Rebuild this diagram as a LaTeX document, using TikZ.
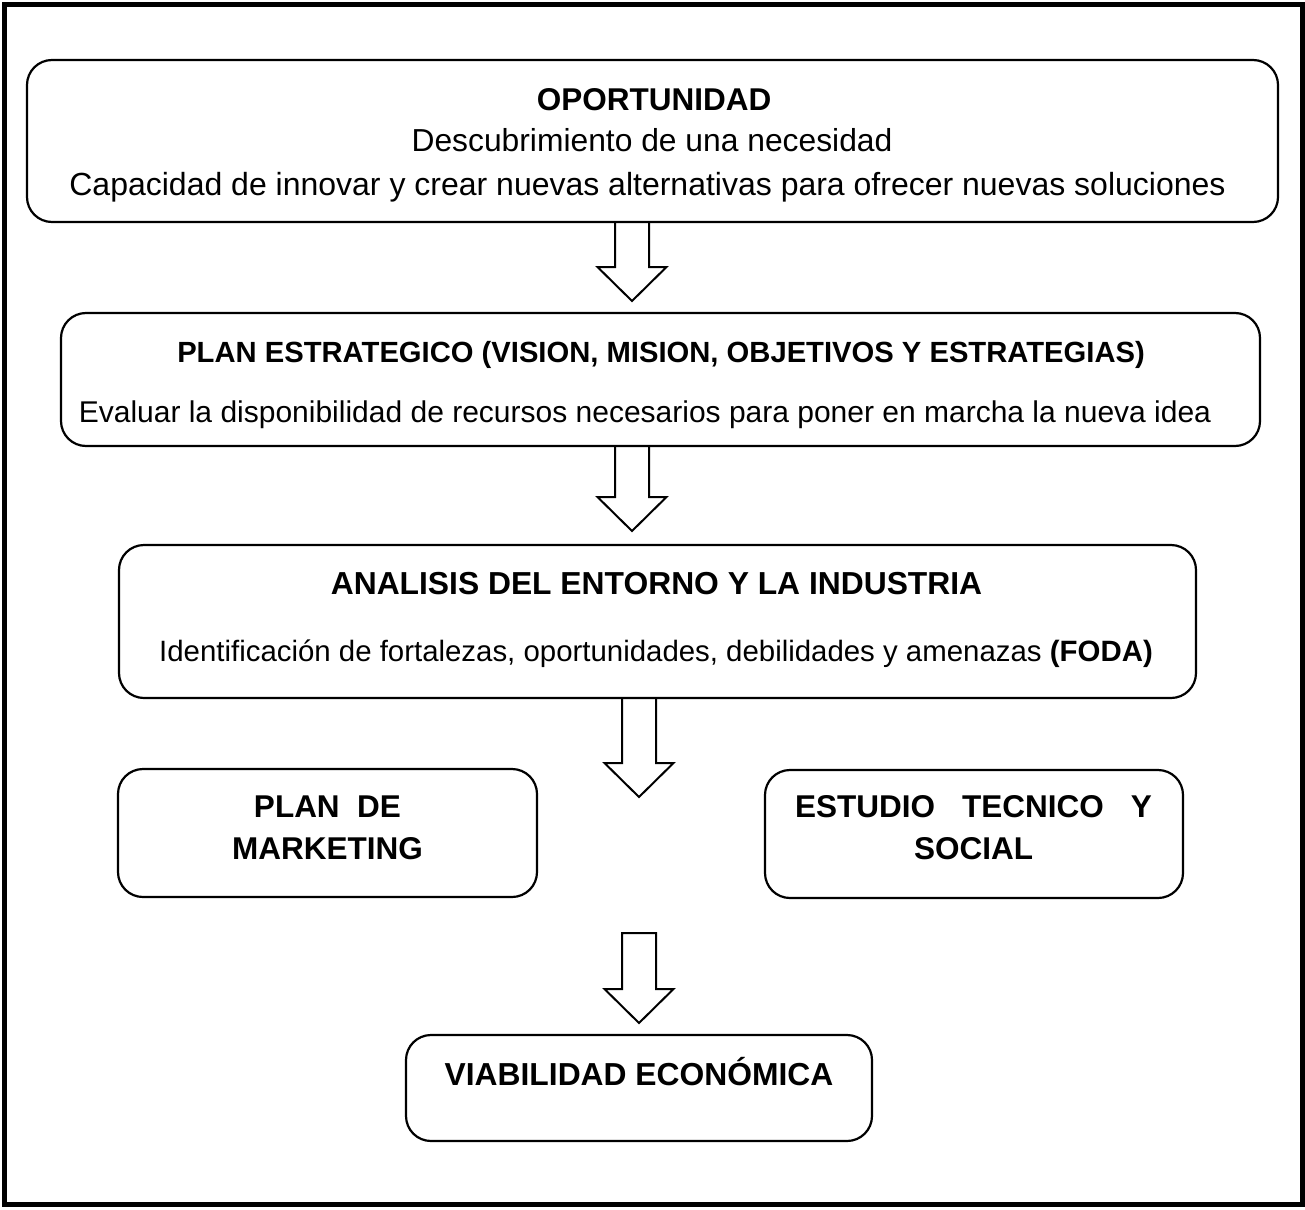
\documentclass[tikz,border=0pt]{standalone}
\usepackage{fontspec}
\setmainfont{Liberation Sans}
\usetikzlibrary{calc}
\tikzset{
  box/.style={draw, line width=2.2pt, rounded corners=25pt, inner sep=0pt},
  txt/.style={anchor=base, inner sep=0pt},
  blockarrow/.style={draw, line width=2pt, line join=miter},
  frame/.style={draw, line width=5pt}
}
\newcommand{\fs}[1]{\fontsize{#1}{#1}\selectfont}
\begin{document}
\begin{tikzpicture}[x=1pt,y=-1pt]
\useasboundingbox (0,0) rectangle (1305,1209);
\draw[frame] (4.5,4.5) rectangle (1302.5,1204.5);

% boxes
\node[box, minimum width=1251pt, minimum height=162pt] (b1) at (652.5,141) {};
\node[box, minimum width=1199pt, minimum height=133pt] (b2) at (660.5,379.5) {};
\node[box, minimum width=1077pt, minimum height=153pt] (b3) at (657.5,621.5) {};
\node[box, minimum width=419pt, minimum height=128pt] (b4) at (327.5,833) {};
\node[box, minimum width=418pt, minimum height=128pt] (b5) at (974,834) {};
\node[box, minimum width=466pt, minimum height=106pt] (b6) at (639,1088) {};

% texts
\node[txt, font=\fs{31.5}\bfseries] (t1a) at (654,111) {OPORTUNIDAD};
\node[txt, font=\fs{31.8}] (t1b) at (652,152) {Descubrimiento de una necesidad};
\node[txt, font=\fs{32}] (t1c) at (647.5,196) {Capacidad de innovar y crear nuevas alternativas para ofrecer nuevas soluciones};

\node[txt, font=\fs{29.2}\bfseries] (t2a) at (661,362) {PLAN ESTRATEGICO (VISION, MISION, OBJETIVOS Y ESTRATEGIAS)};
\node[txt, font=\fs{30}] (t2b) at (645,422) {Evaluar la disponibilidad de recursos necesarios para poner en marcha la nueva idea};

\node[txt, font=\fs{31.8}\bfseries] (t3a) at (656.5,594) {ANALISIS DEL ENTORNO Y LA INDUSTRIA};
\node[txt, font=\fs{29.4}] (t3b) at (656,661) {Identificación de fortalezas, oportunidades, debilidades y amenazas \textbf{(FODA)}};

\node[txt, font=\fs{31.5}\bfseries] (t4a) at (327.5,817) {PLAN~~DE};
\node[txt, font=\fs{31.5}\bfseries] (t4b) at (327.5,859) {MARKETING};

\node[txt, font=\fs{31.5}\bfseries] (t5a) at (973.5,817) {\makebox[357pt]{ESTUDIO\hfill TECNICO\hfill Y}};
\node[txt, font=\fs{31.5}\bfseries] (t5b) at (973.5,859) {SOCIAL};

\node[txt, font=\fs{31.8}\bfseries] (t6a) at (639,1085) {VIABILIDAD ECONÓMICA};

% block arrows
\coordinate (a1) at (632,222);
\coordinate (a2) at (632,446);
\coordinate (a3) at (639,698);
\coordinate (a4) at (639,933);
\draw[blockarrow] (a1) ++(-17,0) -- ++(0,45) -- ++(-17.5,0) -- ++(34.5,34) -- ++(34.5,-34) -- ++(-17.5,0) -- ++(0,-45);
\draw[blockarrow] (a2) ++(-17,0) -- ++(0,51) -- ++(-17.5,0) -- ++(34.5,34) -- ++(34.5,-34) -- ++(-17.5,0) -- ++(0,-51);
\draw[blockarrow] (a3) ++(-17,0) -- ++(0,65) -- ++(-17.5,0) -- ++(34.5,34) -- ++(34.5,-34) -- ++(-17.5,0) -- ++(0,-65);
\draw[blockarrow] (a4) ++(-17,0) -- ++(0,56) -- ++(-17.5,0) -- ++(34.5,34) -- ++(34.5,-34) -- ++(-17.5,0) -- ++(0,-56) -- cycle;
\end{tikzpicture}
\end{document}
